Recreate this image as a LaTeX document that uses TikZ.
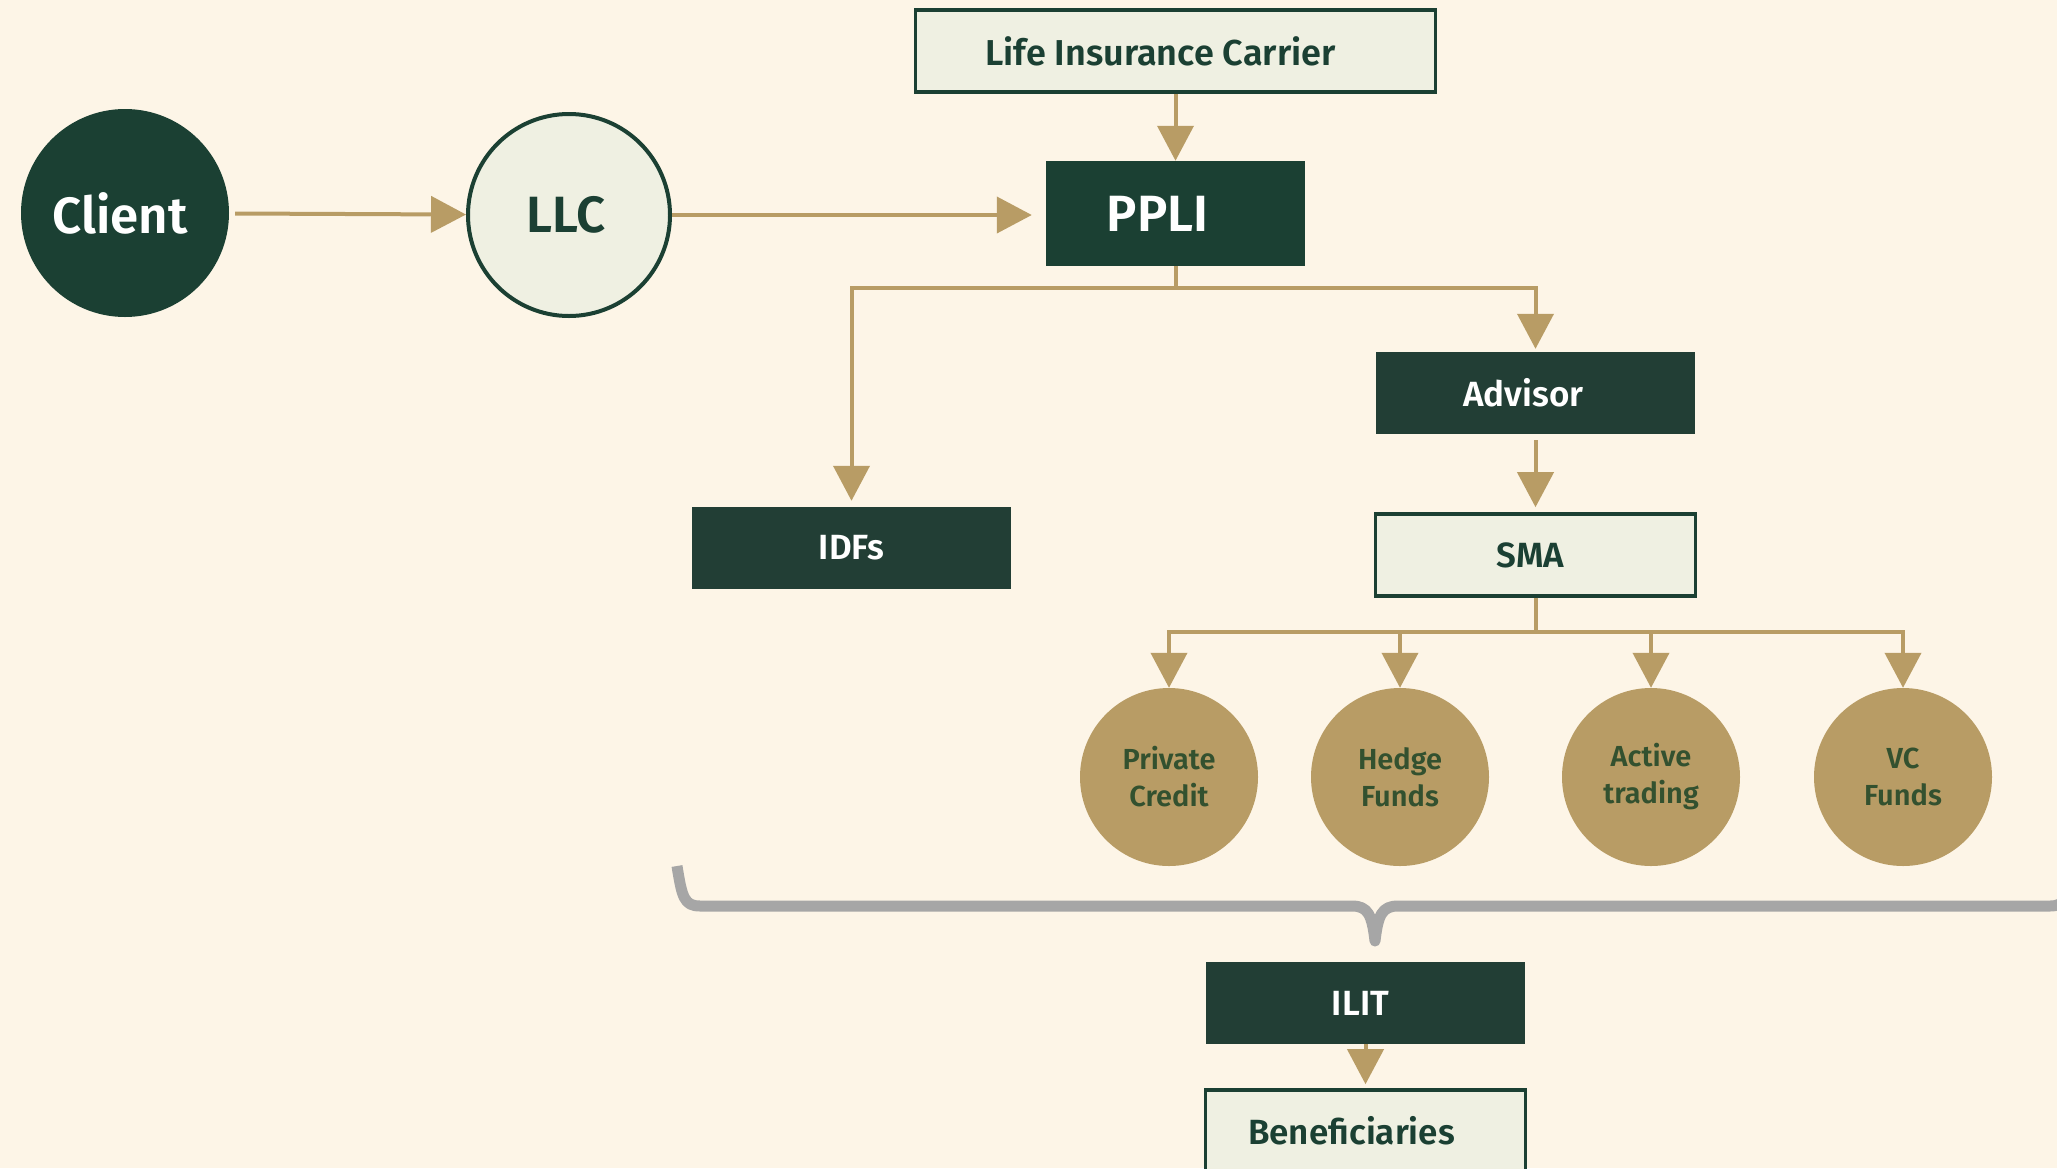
\documentclass[tikz,border=0pt]{standalone}
\usepackage{fontspec}
\setmainfont{Fira Sans}[BoldFont={Fira Sans SemiBold}]
\usetikzlibrary{arrows.meta,positioning}
\definecolor{cream}{HTML}{FDF5E7}
\definecolor{deepgreen}{HTML}{1B4033}
\definecolor{boxgreen}{HTML}{223E35}
\definecolor{pale}{HTML}{EFF0E2}
\definecolor{gold}{HTML}{B89C65}
\definecolor{fundtext}{HTML}{33512F}
\definecolor{bracegray}{HTML}{A6A6A6}

\begin{document}
\begin{tikzpicture}[x=1pt,y=-1pt,
    bigfont/.style={font=\fontsize{51}{60}\selectfont\bfseries},
    nudge/.style={execute at begin node={\hspace*{-#1}}},
    dbox/.style={rectangle,fill=boxgreen,text=white,minimum width=319pt,minimum height=82pt,
      font=\fontsize{35}{42}\selectfont\bfseries},
    lbox/.style={rectangle,draw=deepgreen,line width=3.5pt,fill=pale,text=deepgreen,
      minimum width=320pt,minimum height=82pt,font=\fontsize{35}{42}\selectfont\bfseries},
    fund/.style={circle,fill=gold,text=fundtext,minimum size=178pt,inner sep=0pt,align=center,
      font=\fontsize{29}{37}\selectfont\bfseries},
    conn/.style={draw=gold,line width=4pt},
    arr/.style={conn,-{Triangle[length=35pt,width=36pt]}}]
 \clip (0,0) rectangle (2057,1168);
 \fill[cream] (0,0) rectangle (2057,1168);
 \node[circle,fill=deepgreen,text=white,minimum size=208pt,bigfont,nudge=10pt] (client) at (125,213) {Client};
 \node[circle,draw=deepgreen,line width=4pt,fill=pale,text=deepgreen,minimum size=202pt,bigfont,nudge=6pt] (llc) at (569,215) {LLC};
 \node[lbox,minimum width=520pt,font=\fontsize{36}{42}\selectfont\bfseries,nudge=30pt] (lic) at (1175.5,51) {Life Insurance Carrier};
 \node[below=67pt of lic,rectangle,fill=deepgreen,text=white,minimum width=259pt,minimum height=105pt,bigfont,nudge=36pt] (ppli) {PPLI};
 \node[dbox,nudge=24pt] (advisor) at (1535.5,393) {Advisor};
 \node[dbox] (idfs) at (851.5,548) {IDFs};
 \node[lbox,below=78pt of advisor,nudge=10pt] (sma) {SMA};
 \foreach \x/\n/\t in {1169/pcred/{Private\\Credit},1400/hedge/{Hedge\\Funds},
   1651/active/{Active\\trading},1903/vcf/{VC\\Funds}}
  \node[fund] (\n) at (\x,777) {\t};
 \node[dbox,nudge=10pt] (ilit) at (1365.5,1003) {ILIT};
 \node[lbox,below=44pt of ilit,nudge=28pt] (ben) {Beneficiaries};

 \draw[arr,shorten <=6pt] (client) -- (llc);
 \draw[arr,shorten >=14pt] (llc.east) -- (llc.east -| ppli.west);
 \draw[arr] (ppli.north |- lic.south) -- (ppli.north);
 \draw[conn] (ppli.south) -- ++(0,22) coordinate (pfork);
 \draw[arr,shorten >=6pt] (pfork) -| (idfs.north);
 \draw[arr,shorten >=3pt] (pfork) -| (advisor.north);
 \draw[arr,shorten <=6pt,shorten >=5pt] (advisor) -- (sma);
 \draw[conn] (sma.south) -- ++(0,34) coordinate (sfork);
 \foreach \n in {pcred,hedge,active,vcf}
  \draw[arr] (sfork) -| (\n.north);
 \draw[arr,shorten >=4pt] (ilit) -- (ben);

 \draw[bracegray,line width=11pt,line join=round]
  (677,866) .. controls (682,897) and (684,906) .. (700,906) -- (1352,906)
  .. controls (1368,906) and (1372,915) .. (1375,941)
  .. controls (1378,915) and (1382,906) .. (1398,906) -- (2050,906)
  .. controls (2066,906) and (2068,897) .. (2073,866);
\end{tikzpicture}
\end{document}
